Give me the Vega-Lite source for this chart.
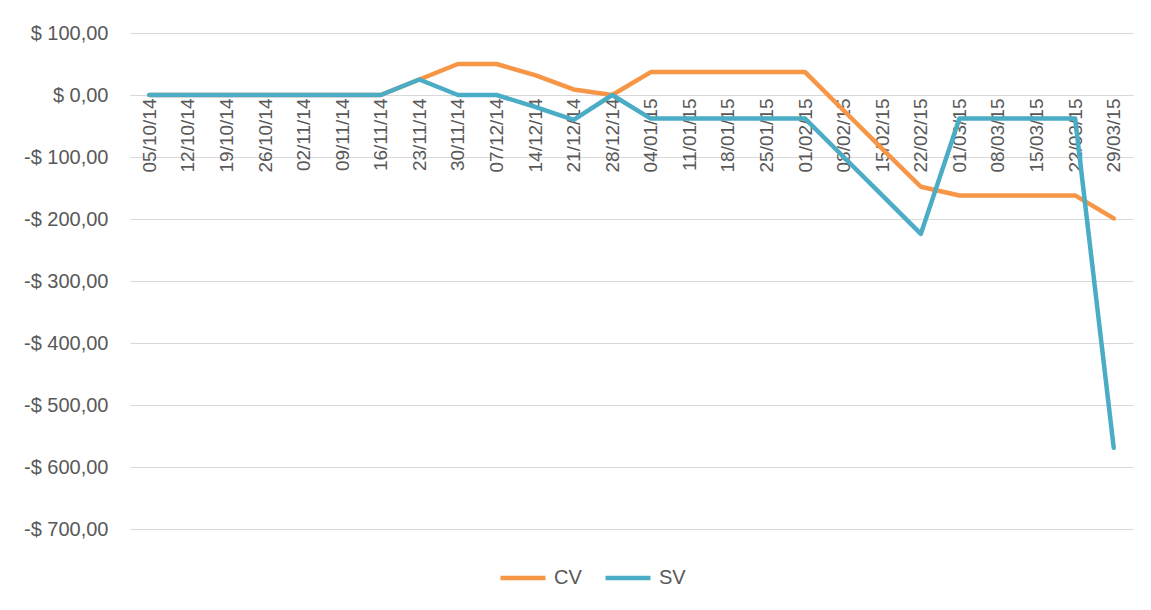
{
  "$schema": "https://vega.github.io/schema/vega-lite/v6.json",
  "autosize": {"type": "none"},
  "width": 1003,
  "height": 496,
  "padding": {"left": 130, "top": 33, "right": 18, "bottom": 81},
  "background": "white",
  "config": {
    "view": {"stroke": null},
    "font": "Liberation Sans"
  },
  "data": {
    "values": [
      {"date": "05/10/14", "series": "CV", "value": 0},
      {"date": "12/10/14", "series": "CV", "value": 0},
      {"date": "19/10/14", "series": "CV", "value": 0},
      {"date": "26/10/14", "series": "CV", "value": 0},
      {"date": "02/11/14", "series": "CV", "value": 0},
      {"date": "09/11/14", "series": "CV", "value": 0},
      {"date": "16/11/14", "series": "CV", "value": 0},
      {"date": "23/11/14", "series": "CV", "value": 25},
      {"date": "30/11/14", "series": "CV", "value": 50},
      {"date": "07/12/14", "series": "CV", "value": 50},
      {"date": "14/12/14", "series": "CV", "value": 32},
      {"date": "21/12/14", "series": "CV", "value": 9},
      {"date": "28/12/14", "series": "CV", "value": 0},
      {"date": "04/01/15", "series": "CV", "value": 37},
      {"date": "11/01/15", "series": "CV", "value": 37},
      {"date": "18/01/15", "series": "CV", "value": 37},
      {"date": "25/01/15", "series": "CV", "value": 37},
      {"date": "01/02/15", "series": "CV", "value": 37},
      {"date": "08/02/15", "series": "CV", "value": -25},
      {"date": "15/02/15", "series": "CV", "value": -87},
      {"date": "22/02/15", "series": "CV", "value": -148},
      {"date": "01/03/15", "series": "CV", "value": -162},
      {"date": "08/03/15", "series": "CV", "value": -162},
      {"date": "15/03/15", "series": "CV", "value": -162},
      {"date": "22/03/15", "series": "CV", "value": -162},
      {"date": "29/03/15", "series": "CV", "value": -199},
      {"date": "05/10/14", "series": "SV", "value": 0},
      {"date": "12/10/14", "series": "SV", "value": 0},
      {"date": "19/10/14", "series": "SV", "value": 0},
      {"date": "26/10/14", "series": "SV", "value": 0},
      {"date": "02/11/14", "series": "SV", "value": 0},
      {"date": "09/11/14", "series": "SV", "value": 0},
      {"date": "16/11/14", "series": "SV", "value": 0},
      {"date": "23/11/14", "series": "SV", "value": 25},
      {"date": "30/11/14", "series": "SV", "value": 0},
      {"date": "07/12/14", "series": "SV", "value": 0},
      {"date": "14/12/14", "series": "SV", "value": -19},
      {"date": "21/12/14", "series": "SV", "value": -40},
      {"date": "28/12/14", "series": "SV", "value": 0},
      {"date": "04/01/15", "series": "SV", "value": -38},
      {"date": "11/01/15", "series": "SV", "value": -38},
      {"date": "18/01/15", "series": "SV", "value": -38},
      {"date": "25/01/15", "series": "SV", "value": -38},
      {"date": "01/02/15", "series": "SV", "value": -38},
      {"date": "08/02/15", "series": "SV", "value": -100},
      {"date": "15/02/15", "series": "SV", "value": -162},
      {"date": "22/02/15", "series": "SV", "value": -224},
      {"date": "01/03/15", "series": "SV", "value": -38},
      {"date": "08/03/15", "series": "SV", "value": -38},
      {"date": "15/03/15", "series": "SV", "value": -38},
      {"date": "22/03/15", "series": "SV", "value": -38},
      {"date": "29/03/15", "series": "SV", "value": -569}
    ]
  },
  "mark": {"type": "line", "strokeWidth": 4.5, "strokeCap": "round", "strokeJoin": "round"},
  "encoding": {
    "x": {
      "field": "date",
      "type": "ordinal",
      "sort": null,
      "scale": {"type": "point", "padding": 0.5},
      "axis": {
        "title": null,
        "offset": -434,
        "labelAngle": -90,
        "labelFontSize": 19,
        "labelColor": "#595959",
        "labelPadding": 3,
        "ticks": false,
        "domainColor": "#d9d9d9",
        "domainWidth": 1,
        "grid": false
      }
    },
    "y": {
      "field": "value",
      "type": "quantitative",
      "scale": {"domain": [-700, 100], "nice": false, "zero": false},
      "axis": {
        "title": null,
        "values": [-700, -600, -500, -400, -300, -200, -100, 0, 100],
        "labelExpr": "datum.value == 0 ? '$ 0,00' : (datum.value < 0 ? '-$ ' + (-datum.value) + ',00' : '$ ' + datum.value + ',00')",
        "labelFontSize": 20,
        "labelColor": "#595959",
        "labelPadding": 22,
        "ticks": false,
        "domain": false,
        "gridColor": "#d9d9d9",
        "gridWidth": 1
      }
    },
    "color": {
      "field": "series",
      "type": "nominal",
      "scale": {"domain": ["CV", "SV"], "range": ["#F79646", "#4BACC6"]},
      "legend": {
        "title": null,
        "orient": "none",
        "direction": "horizontal",
        "legendX": 368,
        "legendY": 520,
        "symbolType": "stroke",
        "symbolStrokeWidth": 4.5,
        "symbolSize": 2025,
        "labelFontSize": 20,
        "labelColor": "#595959",
        "columnPadding": 14,
        "labelOffset": 6
      }
    }
  }
}
